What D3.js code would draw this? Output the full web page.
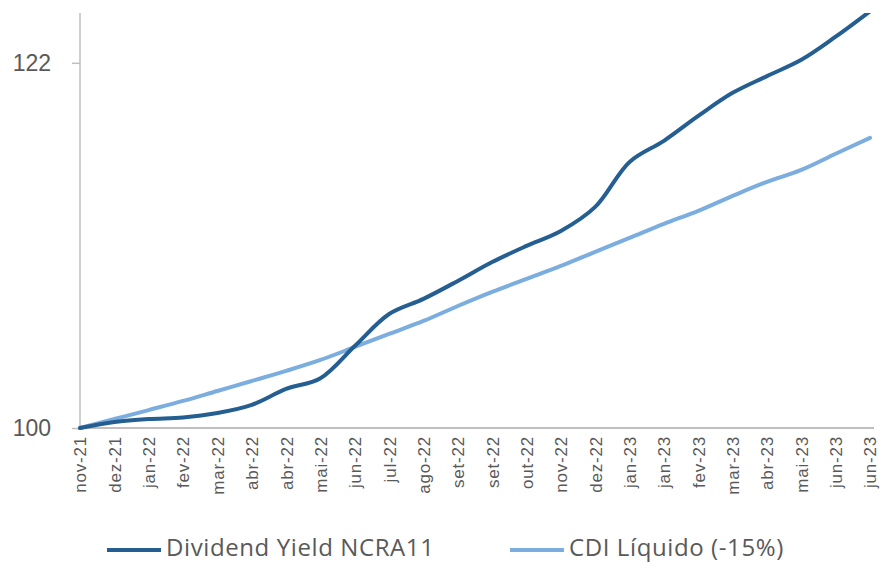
<!DOCTYPE html>
<html>
<head>
<meta charset="utf-8">
<script src="https://cdn.jsdelivr.net/npm/d3@7"></script>
<style>
  html, body { margin: 0; padding: 0; background: #fff; }
  svg { display: block; font-family: "Open Sans", "Noto Sans", sans-serif; }
</style>
</head>
<body>
<svg id="chart" width="881" height="562"></svg>
<script>
/* ── Data ─────────────────────────────────────────── */
const months = [
  "nov-21","dez-21","jan-22","fev-22","mar-22","abr-22","abr-22","mai-22",
  "jun-22","jul-22","ago-22","set-22","set-22","out-22","nov-22","dez-22",
  "jan-23","jan-23","fev-23","mar-23","abr-23","mai-23","jun-23","jun-23"
];
const dividendYield = [
  100.0, 100.36, 100.54, 100.63, 100.9, 101.39, 102.35, 103.0,
  104.94, 106.87, 107.78, 108.86, 110.0, 110.97, 111.87, 113.32,
  116.03, 117.3, 118.8, 120.19, 121.2, 122.18, 123.57, 125.1
];
const cdiLiquido = [
  100.0, 100.54, 101.08, 101.63, 102.23, 102.83, 103.44, 104.1,
  104.88, 105.67, 106.45, 107.35, 108.2, 108.98, 109.76, 110.61,
  111.45, 112.3, 113.08, 113.98, 114.83, 115.55, 116.52, 117.48
];
const yTicks = [100, 122];
const series = [
  { name: "Dividend Yield NCRA11", values: dividendYield, color: "#255e91" },
  { name: "CDI Líquido (-15%)",    values: cdiLiquido,    color: "#7badde" }
];

(function () {
  /* ── Layout ───────────────────────────────────────── */
  const svg = d3.select("#chart");
  const M = { left: 80, right: 870, axisEnd: 874, top: 13, bottom: 428 };

  const x = d3.scalePoint().domain(d3.range(months.length)).range([M.left, M.right]);
  const y = d3.scaleLinear().domain([100, 125]).range([M.bottom, M.top]);

  svg.append("defs").append("clipPath").attr("id", "plot-clip")
    .append("rect")
    .attr("x", M.left - 5).attr("y", M.top)
    .attr("width", M.axisEnd - M.left + 10).attr("height", M.bottom - M.top + 5);

  /* Axes */
  const yAxis = svg.append("g").attr("transform", `translate(${M.left},0)`)
    .call(d3.axisLeft(y).tickValues(yTicks).tickSize(8).tickPadding(21).tickFormat(d3.format("d")));
  yAxis.select(".domain").attr("stroke", "#bfbfbf").attr("stroke-width", 1.5)
    .attr("d", `M0,${M.top}V${M.bottom}`);
  yAxis.selectAll(".tick line").attr("stroke", "#bfbfbf").attr("stroke-width", 1.5);
  yAxis.selectAll(".tick text")
    .attr("fill", "#595959")
    .style("font-size", "23px");

  const xAxis = svg.append("g").attr("transform", `translate(0,${M.bottom})`)
    .call(d3.axisBottom(x).tickSize(0).tickFormat(i => months[i]));
  xAxis.select(".domain").attr("stroke", "#bfbfbf").attr("stroke-width", 2)
    .attr("d", `M${M.left},0H${M.axisEnd}`);
  xAxis.selectAll(".tick text")
    .attr("fill", "#595959")
    .style("font-size", "17px")
    .style("letter-spacing", "0.8px")
    .attr("text-anchor", "end")
    .attr("dy", "0.35em")
    .attr("transform", "translate(0,8) rotate(-90)")
    .attr("x", 0).attr("y", 0);

  /* Lines */
  const line = d3.line()
    .x((d, i) => x(i))
    .y(d => y(d))
    .curve(d3.curveCatmullRom.alpha(0.5));

  const linesG = svg.append("g").attr("clip-path", "url(#plot-clip)");
  series.slice().reverse().forEach(s => {
    linesG.append("path")
      .datum(s.values)
      .attr("fill", "none")
      .attr("stroke", s.color)
      .attr("stroke-width", 4)
      .attr("stroke-linecap", "round")
      .attr("d", line);
  });

  /* Legend */
  const legendX = [107, 510];
  series.forEach((s, i) => {
    const g = svg.append("g").attr("transform", `translate(${legendX[i]},550)`);
    g.append("line").attr("x1", 0).attr("x2", 54).attr("y1", 0).attr("y2", 0)
      .attr("stroke", s.color).attr("stroke-width", 4);
    g.append("text").attr("x", 59).attr("y", 6)
      .attr("fill", "#595959").style("font-size", "24px")
      .style("letter-spacing", "0.6px").text(s.name);
  });
})();
</script>
</body>
</html>
